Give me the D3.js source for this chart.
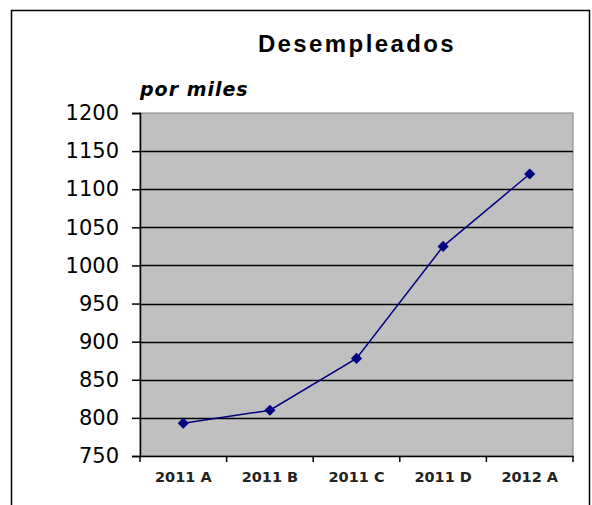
<!DOCTYPE html>
<html>
<head>
<meta charset="utf-8">
<script src="https://cdn.jsdelivr.net/npm/d3@7"></script>
<style>
  body { margin: 0; background: #fff; }
  svg text { font-family: "DejaVu Sans", Arial, sans-serif; }
</style>
</head>
<body>
<div id="chart"></div>
<script>
// data
var periods = ["2011 A", "2011 B", "2011 C", "2011 D", "2012 A"];
var values = [793, 810, 878, 1025, 1120];
var yTicks = [750, 800, 850, 900, 950, 1000, 1050, 1100, 1150, 1200];

var W = 592, H = 505;
var plot = { left: 140, top: 113, right: 573, bottom: 456 };

var svg = d3.select("#chart").append("svg")
    .attr("width", W)
    .attr("height", H);

// outer chart border
svg.append("rect")
    .attr("x", 11.5).attr("y", 10.5)
    .attr("width", 578).attr("height", 520)
    .attr("fill", "#fff")
    .attr("stroke", "#000").attr("stroke-width", 1.5);

var x = d3.scaleBand().domain(periods).range([plot.left, plot.right]);
var y = d3.scaleLinear().domain([750, 1200]).range([plot.bottom, plot.top]);

// plot area
svg.append("rect")
    .attr("x", plot.left).attr("y", plot.top)
    .attr("width", plot.right - plot.left).attr("height", plot.bottom - plot.top)
    .attr("fill", "#c0c0c0")
    .attr("stroke", "#808080").attr("stroke-width", 1);

// gridlines
svg.append("g")
    .selectAll("line")
    .data(yTicks.filter(d => d > 750 && d < 1200))
    .join("line")
    .attr("x1", plot.left).attr("x2", plot.right)
    .attr("y1", d => Math.round(y(d)) + 0.5).attr("y2", d => Math.round(y(d)) + 0.5)
    .attr("stroke", "#000").attr("stroke-width", 1.5);

// y axis
var yAxis = svg.append("g")
    .attr("transform", "translate(" + plot.left + ",0)")
    .call(d3.axisLeft(y).tickValues(yTicks).tickFormat(d3.format("d")).tickSize(8).tickPadding(13));
yAxis.select(".domain").attr("stroke", "#000").attr("stroke-width", 1.5);
yAxis.selectAll(".tick line").attr("stroke-width", 1.5);
yAxis.selectAll("text")
    .attr("font-size", 21)
    .attr("fill", "#000");

// x axis
var xAxis = svg.append("g")
    .attr("transform", "translate(0," + plot.bottom + ")")
    .call(d3.axisBottom(x).tickSize(0).tickPadding(16));
xAxis.select(".domain").attr("stroke", "#000").attr("stroke-width", 1.5);
xAxis.selectAll("text")
    .attr("font-size", 14.5)
    .attr("font-weight", "bold")
    .attr("fill", "#222");

// category boundary ticks
var bounds = periods.map(p => x(p)).concat([plot.right]);
svg.append("g")
    .selectAll("line")
    .data(bounds)
    .join("line")
    .attr("x1", d => d).attr("x2", d => d)
    .attr("y1", plot.bottom).attr("y2", plot.bottom + 6)
    .attr("stroke", "#000").attr("stroke-width", 1.5);

// series line
var line = d3.line()
    .x((d, i) => x(periods[i]) + x.bandwidth() / 2)
    .y(d => y(d));

svg.append("path")
    .datum(values)
    .attr("d", line)
    .attr("fill", "none")
    .attr("stroke", "#000080")
    .attr("stroke-width", 1.5);

svg.append("g")
    .selectAll("path")
    .data(values)
    .join("path")
    .attr("d", d3.symbol(d3.symbolDiamond2, 80))
    .attr("transform", (d, i) => "translate(" + (x(periods[i]) + x.bandwidth() / 2) + "," + y(d) + ")")
    .attr("fill", "#000080");

// title
svg.append("text")
    .attr("x", 357).attr("y", 52)
    .attr("text-anchor", "middle")
    .style("font-family", "'Liberation Sans', Arial, sans-serif")
    .attr("font-size", 24)
    .attr("font-weight", "bold")
    .attr("letter-spacing", 2.4)
    .text("Desempleados");

// unit label
svg.append("text")
    .attr("x", 140).attr("y", 96)
    .attr("font-size", 19)
    .attr("font-weight", "bold")
    .attr("font-style", "italic")
    .attr("letter-spacing", 1)
    .text("por miles");
</script>
</body>
</html>
